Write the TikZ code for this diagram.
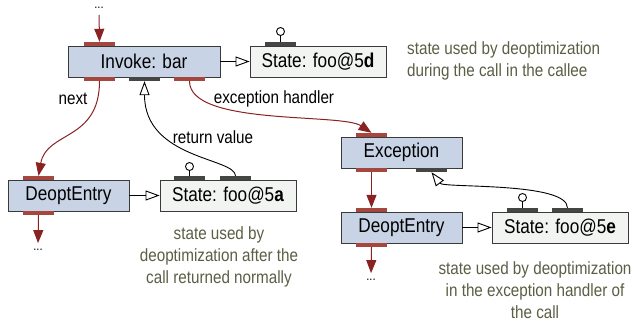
\documentclass[tikz,border=0pt]{standalone}
\usepackage{fontspec}
\setmainfont{Liberation Sans}[FakeStretch=0.86]
\usetikzlibrary{arrows.meta}
\definecolor{blkfill}{HTML}{C8D4E6}
\definecolor{stfill}{HTML}{F2F4F2}
\definecolor{boxline}{HTML}{3A3A3A}
\definecolor{portred}{HTML}{A5473F}
\definecolor{portdark}{HTML}{454545}
\definecolor{arrred}{HTML}{8B2222}
\definecolor{notecol}{HTML}{5A5F45}
\tikzset{
  boxbase/.style={draw=boxline, line width=0.9pt, minimum height=31pt, inner sep=0pt,
    text=black, font=\fontsize{20}{22}\selectfont},
  blk/.style={boxbase, fill=blkfill, minimum width=121pt},
  stbox/.style={boxbase, fill=stfill, minimum width=136pt},
  portr/.style={fill=portred, minimum width=31pt, minimum height=4pt, inner sep=0pt},
  portd/.style={fill=portdark, minimum width=31pt, minimum height=4pt, inner sep=0pt},
  pin/.style={circle, draw=black, fill=white, line width=0.9pt, minimum size=8pt, inner sep=0pt},
  dots/.style={inner sep=3pt, font=\fontsize{13}{13}\selectfont},
  redarr/.style={draw=arrred, line width=1pt, -{Triangle[width=10pt,length=13pt]}},
  openarr/.style={draw=black, line width=0.9pt, -{Triangle[open,width=10pt,length=14pt,fill=white]}},
  lbl/.style={inner sep=0pt, font=\fontsize{17.7}{22}\selectfont},
  note/.style={inner sep=0pt, text=notecol, font=\fontsize{17.7}{22}\selectfont},
}
\begin{document}
\begin{tikzpicture}[x=1pt,y=-1pt]
\useasboundingbox (0,0) rectangle (634,322);
\fill[white] (0,0) rectangle (634,322);

% boxes
\node[blk, minimum width=152pt] (invoke) at (144,61.5) {Invoke: bar};
\node[stbox] (std) at (318,61.5) {State: foo@5\textbf{d}};
\node[blk] (deoptL) at (68.5,195.5) {DeoptEntry};
\node[stbox] (sta) at (228,195.5) {State: foo@5\textbf{a}};
\node[blk] (exc) at (401.5,152.5) {Exception};
\node[blk] (deoptR) at (401.5,227.5) {DeoptEntry};
\node[stbox] (ste) at (560,227.5) {State: foo@5\textbf{e}};

% ports
\node[portr] (invT) at (99.5,44) {};
\node[portr] (invB1) at (99.5,79) {};
\node[portd] (invB2) at (144.5,79) {};
\node[portr] (invB3) at (189.5,79) {};
\node[portd] (stdT) at (280.5,44) {};
\node[portr] (dLT) at (38.5,178) {};
\node[portr] (dLB) at (38.5,213) {};
\node[portd] (staT1) at (189.5,178) {};
\node[portd] (staT2) at (235.5,178) {};
\node[portr] (excT) at (371.5,135) {};
\node[portr] (excB1) at (371.5,170) {};
\node[portd] (excB2) at (431.5,170) {};
\node[portr] (dRT) at (371.5,210) {};
\node[portr] (dRB) at (371.5,245) {};
\node[portd] (steT1) at (522.5,210) {};
\node[portd] (steT2) at (567.5,210) {};

% pins
\node[pin] (pd) at (280.5,31.5) {};
\node[pin] (pa) at (189.5,166.5) {};
\node[pin] (pe) at (522.5,197.5) {};
\draw[line width=0.9pt] (pd.south) -- (stdT.north);
\draw[line width=0.9pt] (pa.south) -- (staT1.north);
\draw[line width=0.9pt] (pe.south) -- (steT1.north);

% dots
\node[dots] (dtop) at (99,8) {...};
\node[dots] (dbotL) at (38,250) {...};
\node[dots] (dbotR) at (371,280) {...};

% control flow
\draw[redarr, shorten <=3pt] (dtop.south) -- (invT.north);
\draw[redarr] (invB1.south) .. controls +(0,60) and +(8,-45) .. (dLT.north);
\draw[redarr] (invB3.south) .. controls +(0,45) and +(-30,-20) .. (excT.north);
\draw[redarr] (excB1.south) -- (dRT.north);
\draw[redarr, shorten >=3pt] (dLB.south) -- (dbotL.north);
\draw[redarr, shorten >=3pt] (dRB.south) -- (dbotR.north);

% state links
\draw[openarr] (invoke.east) -- (std.west);
\draw[openarr] (deoptL.east) -- (sta.west);
\draw[openarr] (deoptR.east) -- (ste.west);
\draw[openarr] (staT2.north) .. controls +(0,-18) and +(0,78) .. (invB2.south);
\draw[openarr] (steT2.north) .. controls +(0,-26) and +(12,16) .. (excB2.south);

% labels
\node[lbl] (lnext) at (73,99) {next};
\node[lbl] (lexc) at (274,99) {exception handler};
\node[lbl] (lret) at (213,137) {return value};

% notes
\node[note, anchor=west, align=left] (n1) at (407,61) {state used by deoptimization\\during the call in the callee};
\node[note, align=center] (n2) at (219,257) {state used by\\deoptimization after the\\call returned normally};
\node[note, align=center] (n3) at (535,290) {state used by deoptimization\\in the exception handler of\\the call};
\end{tikzpicture}
\end{document}
